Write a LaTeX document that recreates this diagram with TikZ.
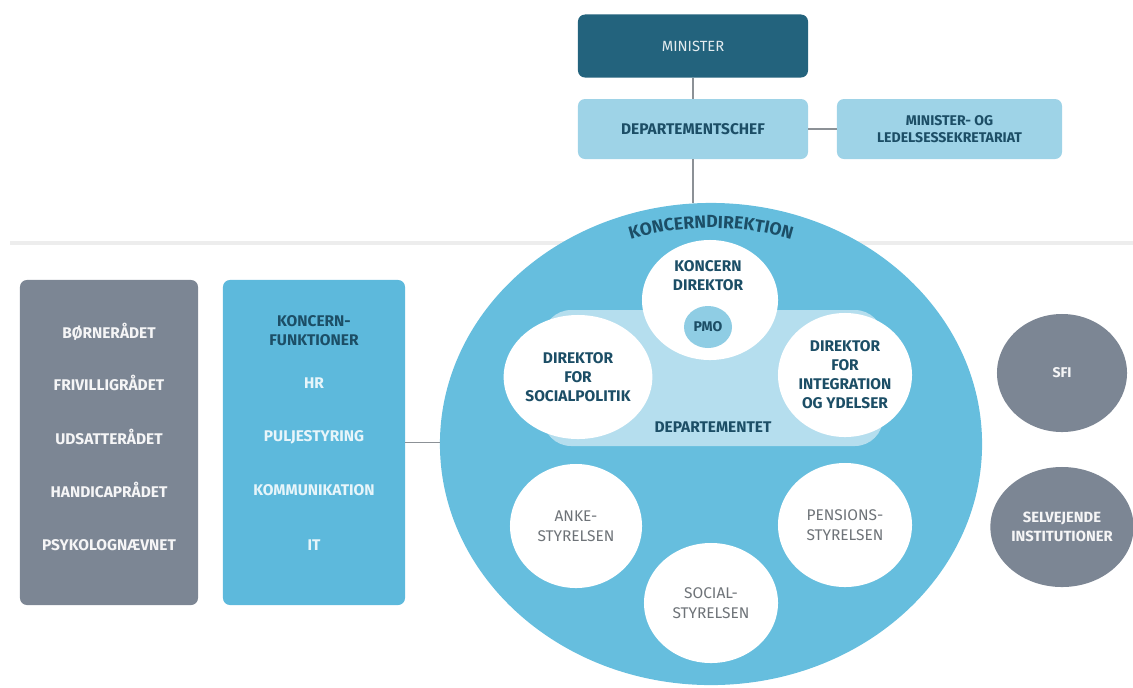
\documentclass[tikz,border=0pt]{standalone}
\usepackage{fontspec}
\setmainfont{Fira Sans}
\usetikzlibrary{shapes.geometric,decorations.text}

\definecolor{ministerblue}{HTML}{23637D}
\definecolor{paleblue}{HTML}{9ED3E7}
\definecolor{midblue}{HTML}{5DB9DC}
\definecolor{ringblue}{HTML}{66BEDE}
\definecolor{cloudblue}{HTML}{B5DEEE}
\definecolor{pmoblue}{HTML}{8FCDE4}
\definecolor{inkblue}{HTML}{1C4E66}
\definecolor{slate}{HTML}{7C8694}
\definecolor{linegray}{HTML}{8C9196}
\definecolor{softgray}{HTML}{6E7378}

\begin{document}
\begin{tikzpicture}[x=0.025cm, y=-0.025cm,
    box/.style={rounded corners=5pt, inner sep=0pt, align=center},
    orb/.style={ellipse, inner sep=0pt, align=center, minimum width=3.35cm, minimum height=3.1cm},
    bold/.style={font=\bfseries\fontsize{11}{13.5}\selectfont},
    head/.style={bold, text=inkblue, align=center},
    item/.style={bold, text=white!92!slate},
    unit/.style={font=\fontsize{11}{14}\selectfont, text=softgray, align=center},
    link/.style={draw=linegray, line width=0.9pt}]
    \useasboundingbox (0,0) rectangle (1133,687);

    % faint rule across the page
    \draw [line width=3pt, black!7] (10,243) -- (1133,243) ;

    % top of the organisation
    \node [box, fill=ministerblue, text=ministerblue!12, minimum width=5.75cm, minimum height=1.575cm, font=\fontsize{10.5}{12}\selectfont] (minister) at (693,46) {MINISTER};
    \node [box, head, fill=paleblue, minimum width=5.75cm, minimum height=1.5cm] (depchef) at (693,129) {DEPARTEMENTSCHEF};
    \node [box, head, fill=paleblue, minimum width=5.625cm, minimum height=1.5cm, font=\bfseries\fontsize{10}{12.5}\selectfont] (sekretariat) at (949.5,129) {MINISTER- OG\\LEDELSESSEKRETARIAT};
    \draw [link] (minister) -- (depchef) ;
    \draw [link] (depchef) -- (sekretariat) ;

    % koncerndirektion
    \node [ellipse, inner sep=0pt, fill=ringblue, minimum width=13.55cm, minimum height=12.05cm] (kd) at (711,444) {};
    \draw [link] (depchef.south) -- (depchef.south |- kd.north) ;
    \path [decorate, decoration={text along path, text align=center,
        text={|\bfseries\fontsize{12.5}{14}\selectfont\color{inkblue}|KONCERNDIREKTION}}]
        (588,256.9) arc [start angle=-120, end angle=-60, x radius=246, y radius=216] ;

    % departementet
    \fill [cloudblue, rounded corners=20pt] (543,310) rectangle (883,446) ;
    \node [head] (dep) at (713,427) {DEPARTEMENTET};
    \node [orb, fill=white, minimum width=3.4cm, minimum height=3cm] (kdir) at (710,300) {};
    \node [head] (kdirtext) at (708,276) {KONCERN\\DIREKTOR};
    \node [ellipse, inner sep=0pt, fill=pmoblue, minimum width=1.2cm, minimum height=1.05cm, head, font=\bfseries\fontsize{10}{12}\selectfont] (pmo) at (708,327) {PMO};
    \node [orb, fill=white, head] (socpol) at (578,377) {DIREKTOR\\FOR\\SOCIALPOLITIK};
    \node [orb, fill=white, head] (integ) at (845,375) {DIREKTOR\\FOR\\INTEGRATION\\OG YDELSER};

    % styrelser
    \node [orb, fill=white, unit, minimum width=3.3cm] (anke) at (576,526) {ANKE-\\STYRELSEN};
    \node [orb, fill=white, unit, minimum height=3cm] (social) at (711,603) {SOCIAL-\\STYRELSEN};
    \node [orb, fill=white, unit] (pension) at (845,525) {PENSIONS-\\STYRELSEN};

    % raad og naevn
    \node [box, fill=slate, minimum width=4.45cm, minimum height=8.125cm] (raad) at (109,442.5) {};
    \foreach \name/\y in {BØRNERÅDET/332, FRIVILLIGRÅDET/383, UDSATTERÅDET/437, HANDICAPRÅDET/490, PSYKOLOGNÆVNET/545}
        \node [item] (raad-\y) at (109,\y) {\name};

    % koncernfunktioner
    \node [box, fill=midblue, minimum width=4.55cm, minimum height=8.125cm] (funk) at (314,442.5) {};
    \node [head] (funkhead) at (314,331) {KONCERN-\\FUNKTIONER};
    \foreach \name/\y in {HR/383, PULJESTYRING/437, KOMMUNIKATION/490, IT/545}
        \node [item, text=white!85!midblue] (funk-\y) at (314,\y) {\name};
    \draw [link] (funk.east) -- (funk.east -| kd.west) ;

    % selvstaendige
    \node [ellipse, inner sep=0pt, fill=slate, minimum width=3.25cm, minimum height=2.95cm, item, font=\bfseries\fontsize{10}{12}\selectfont] (sfi) at (1062,373) {SFI};
    \node [ellipse, inner sep=0pt, fill=slate, minimum width=3.25cm, minimum height=3cm, item, align=center, font=\bfseries\fontsize{10.5}{13}\selectfont] (selv) at (1062,527) {SELVEJENDE\\INSTITUTIONER};
\end{tikzpicture}
\end{document}
